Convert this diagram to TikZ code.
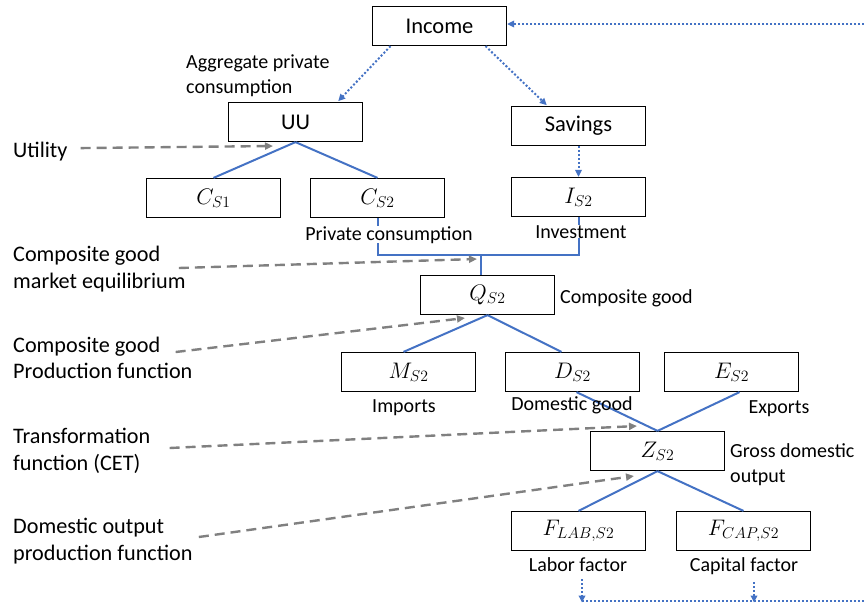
\RequirePackage{fix-cm}
\documentclass[tikz,border=0pt]{standalone}
\usepackage{fontspec}
\setmainfont{Carlito}
\usetikzlibrary{arrows.meta}
\definecolor{linkblue}{RGB}{68,114,196}
\definecolor{hintgray}{RGB}{128,128,128}
\begin{document}
\begin{tikzpicture}[x=1pt,y=-1pt,
    box/.style={draw,line width=1.2pt,minimum width=134pt,minimum height=39pt,inner sep=0pt,font=\fontsize{22.5}{26}\selectfont},
    tag/.style={inner sep=0pt,align=center,font=\fontsize{20}{25}\selectfont},
    side/.style={inner sep=0pt,align=left,anchor=west,font=\fontsize{22.2}{26.5}\selectfont},
    tie/.style={linkblue,line width=2pt},
    flow/.style={linkblue,line width=2pt,dotted,-{Triangle[length=7pt,width=6.5pt]}},
    hint/.style={hintgray,line width=2.4pt,dash pattern=on 10pt off 6pt,-{Triangle[length=8pt,width=7pt]}}]
    \useasboundingbox (0,0) rectangle (864,603);
    %% boxes
    \node[box] (income) at (439.5,26) {Income};
    \node[box] (uu) at (295.5,122) {UU};
    \node[box] (savings) at (578.5,126) {Savings};
    \node[box] (cs1) at (213.5,198) {$C_{S1}$};
    \node[box] (cs2) at (377.5,198) {$C_{S2}$};
    \node[box] (is2) at (578.5,197) {$I_{S2}$};
    \node[box] (qs2) at (487.5,295) {$Q_{S2}$};
    \node[box] (ms2) at (408.5,372) {$M_{S2}$};
    \node[box] (ds2) at (572.5,372) {$D_{S2}$};
    \node[box] (es2) at (731.5,372) {$E_{S2}$};
    \node[box] (zs2) at (657.5,451) {$Z_{S2}$};
    \node[box] (flab) at (578.5,531) {$F_{LAB,S2}$};
    \node[box] (fcap) at (743.5,531) {$F_{CAP,S2}$};
    %% tree links
    \coordinate (join) at (480.5,255);
    \draw[tie] (uu.south) -- (cs1.north);
    \draw[tie] (uu.south) -- (cs2.north);
    \draw[tie] (cs2.south) |- (join) -| (is2.south);
    \draw[tie] (join) -- (join |- qs2.north);
    \draw[tie] (qs2.south) -- ([xshift=-5pt]ms2.north);
    \draw[tie] (qs2.south) -- ([xshift=-11pt]ds2.north);
    \draw[tie] ([xshift=4pt]ds2.south) -- (zs2.north);
    \draw[tie] ([xshift=8pt]es2.south) -- (zs2.north);
    \draw[tie] (zs2.south) -- (flab.north);
    \draw[tie] (zs2.south) -- (fcap.north);
    %% labels
    \node[tag,anchor=west,align=left] (aggcons) at (186,76) {Aggregate private\\consumption};
    \node[tag,anchor=base,fill=white] (pcons) at (389,240) {Private consumption};
    \node[tag,anchor=base,fill=white] (invest) at (581,238) {Investment};
    \node[tag,anchor=base west] (compgood) at (560,303) {Composite good};
    \node[tag,anchor=base] (imports) at (404,412) {Imports};
    \node[tag,anchor=base] (domgood) at (572,410) {Domestic good};
    \node[tag,anchor=base] (exports) at (779,413) {Exports};
    \node[tag,anchor=west,align=left] (gdo) at (730,465) {Gross domestic\\output};
    \node[tag,anchor=base] (labor) at (578,571) {Labor factor};
    \node[tag,anchor=base] (capital) at (744,571) {Capital factor};
    %% function names
    \node[side,anchor=base west] (utility) at (13,157) {Utility};
    \node[side] (mkteq) at (13,269) {Composite good\\market equilibrium};
    \node[side] (prodfn) at (13,358) {Composite good\\Production function};
    \node[side] (cet) at (13,451) {Transformation\\function (CET)};
    \node[side] (domout) at (13,541) {Domestic output\\production function};
    \coordinate (utilend) at (273,146);
    \coordinate (mktend) at (477,259);
    \coordinate (prodend) at (465,318);
    \coordinate (cetend) at (637,426);
    \coordinate (domend) at (634,476);
    \draw[hint] ([xshift=13pt,yshift=3pt]utility.east) -- (utilend);
    \draw[hint] ([xshift=-7pt,yshift=1pt]mkteq.east) -- (mktend);
    \draw[hint] ([xshift=-17pt,yshift=6pt]prodfn.east) -- (prodend);
    \draw[hint] ([xshift=19pt,yshift=3pt]cet.east) -- (cetend);
    \draw[hint] ([xshift=6pt,yshift=4pt]domout.east) -- (domend);
    %% income flows
    \coordinate (topedge) at (864,24);
    \coordinate (botedge) at (864,600.5);
    \draw[flow,shorten >=1pt] ([xshift=-49pt]income.south) -- ([xshift=42pt]uu.north);
    \draw[flow,shorten >=1pt] ([xshift=46pt]income.south) -- ([xshift=-31pt]savings.north);
    \draw[flow] (savings.south) -- (is2.north);
    \draw[flow] (topedge) -- (topedge -| income.east);
    \draw[linkblue,line width=2pt,dotted] ([xshift=4pt]labor.south |- botedge) -- (botedge);
    \draw[flow] ([xshift=4pt,yshift=-8pt]labor.south) -- ([xshift=4pt,yshift=-2pt]labor.south |- botedge);
    \draw[flow] ([xshift=10pt,yshift=-8pt]capital.south) -- ([xshift=10pt,yshift=-2pt]capital.south |- botedge);
\end{tikzpicture}
\end{document}
